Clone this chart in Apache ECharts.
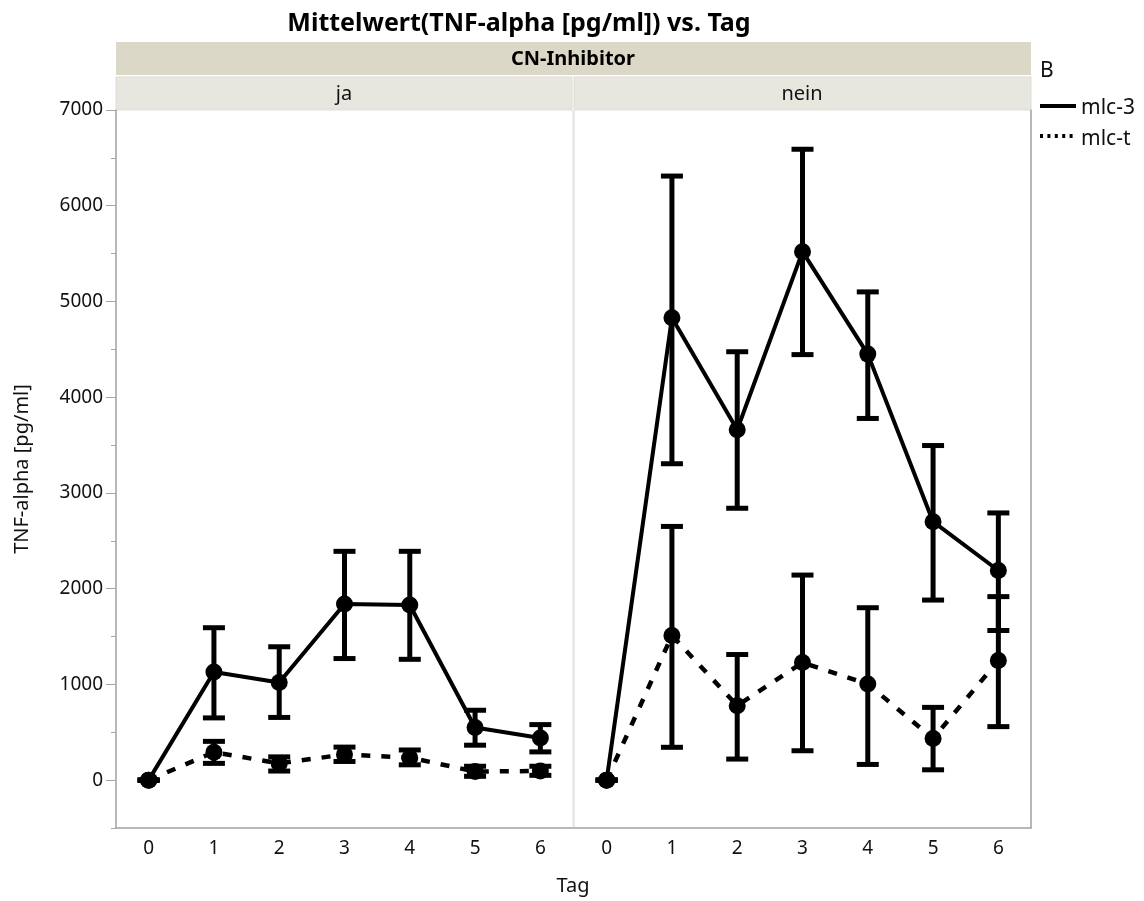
<!DOCTYPE html>
<html>
<head>
<meta charset="utf-8">
<script src="https://cdn.jsdelivr.net/npm/echarts@6/dist/echarts.min.js"></script>
<style>html,body{margin:0;padding:0;background:#fff}#c{width:1144px;height:901px}</style>
</head>
<body>
<div id="c"></div>
<script>
// ---- data ----
const days = ['0','1','2','3','4','5','6'];
const yTicks = [0,1000,2000,3000,4000,5000,6000,7000];
const panels = ['ja','nein'];
const seriesNames = ['mlc-3','mlc-t'];

const ja_mlc3_mean = [0, 1130, 1020, 1840, 1830, 550, 440];
const ja_mlc3_lo   = [0, 650, 655, 1270, 1262, 365, 295];
const ja_mlc3_hi   = [0, 1592, 1393, 2390, 2390, 730, 580];
const ja_mlct_mean = [0, 292, 175, 268, 235, 90, 95];
const ja_mlct_lo   = [0, 175, 95, 195, 160, 40, 50];
const ja_mlct_hi   = [0, 405, 243, 345, 315, 145, 145];

const nein_mlc3_mean = [0, 4830, 3660, 5520, 4450, 2700, 2190];
const nein_mlc3_lo   = [0, 3305, 2840, 4445, 3778, 1881, 1563];
const nein_mlc3_hi   = [0, 6310, 4475, 6590, 5100, 3495, 2791];
const nein_mlct_mean = [0, 1511, 778, 1228, 1004, 435, 1249];
const nein_mlct_lo   = [0, 343, 220, 307, 164, 108, 559];
const nein_mlct_hi   = [0, 2650, 1312, 2142, 1801, 760, 1917];

const FONT = 'Noto Sans';
const chart = echarts.init(document.getElementById('c'), null, {renderer:'canvas'});

function errSeries(gi, lo, hi, z) {
  return {
    type: 'custom', xAxisIndex: gi, yAxisIndex: gi, z: z, silent: true,
    data: days.map((d, i) => [i, lo[i], hi[i]]),
    encode: {x: 0, y: [1, 2]},
    renderItem: function (params, api) {
      const x = api.value(0);
      const a = api.coord([x, api.value(1)]);
      const b = api.coord([x, api.value(2)]);
      const hw = 11;
      const st = {stroke: '#000', lineWidth: 5};
      return {type: 'group', children: [
        {type: 'line', shape: {x1: a[0], y1: a[1], x2: b[0], y2: b[1]}, style: st},
        {type: 'line', shape: {x1: a[0]-hw, y1: a[1], x2: a[0]+hw, y2: a[1]}, style: st},
        {type: 'line', shape: {x1: b[0]-hw, y1: b[1], x2: b[0]+hw, y2: b[1]}, style: st}
      ]};
    }
  };
}
function lineSeries(gi, name, data, dashed, z) {
  return {
    type: 'line', name: name, xAxisIndex: gi, yAxisIndex: gi, z: z, silent: true,
    data: data, symbol: 'circle', symbolSize: 17,
    itemStyle: {color: '#000'},
    lineStyle: {color: '#000', width: dashed ? 4.5 : 4, type: dashed ? [9, 11] : 'solid'},
    animation: false
  };
}

const gridTop = 110, gridH = 718, gridW = 457;
const lefts = [116, 574];
const AX = '#a6a6a6';

const option = {
  animation: false,
  title: {
    text: 'Mittelwert(TNF-alpha [pg/ml]) vs. Tag', left: 514, top: 6, textAlign: 'center',
    textStyle: {fontFamily: FONT, fontSize: 25, fontWeight: 'bold', color: '#000'}
  },
  grid: lefts.map(l => ({left: l, top: gridTop, width: gridW, height: gridH,
    show: true, borderColor: '#dcdcdc', borderWidth: 1, backgroundColor: '#fff'})),
  xAxis: [0, 1].map(i => ({
    type: 'category', gridIndex: i, data: days, boundaryGap: true,
    axisLine: {show: true, onZero: false, lineStyle: {color: AX, width: 1.5}},
    axisTick: {show: false},
    axisLabel: {fontFamily: FONT, fontSize: 19, color: '#111', margin: 11},
    splitLine: {show: false}
  })),
  yAxis: [
    {type: 'value', gridIndex: 0, min: -500, max: 7000, interval: 500,
     axisLine: {show: true, lineStyle: {color: AX, width: 1.5}},
     axisTick: {show: true, length: 10, customValues: yTicks, lineStyle: {color: AX}},
     axisLabel: {fontFamily: FONT, fontSize: 19, color: '#111', margin: 13, customValues: yTicks,
       formatter: v => String(v)},
     splitLine: {show: false},
     name: 'TNF-alpha [pg/ml]', nameLocation: 'middle', nameGap: 84, nameRotate: 90,
     nameTextStyle: {fontFamily: FONT, fontSize: 20, color: '#111'}},
    {type: 'value', gridIndex: 1, min: -500, max: 7000, interval: 500, position: 'right',
     axisLine: {show: true, lineStyle: {color: AX, width: 1.5}},
     axisTick: {show: false}, axisLabel: {show: false}, splitLine: {show: false}},
    {type: 'value', gridIndex: 0, min: -500, max: 7000, interval: 500, position: 'left',
     axisLine: {show: false}, axisTick: {show: true, length: 5, lineStyle: {color: AX}},
     axisLabel: {show: false}, splitLine: {show: false}}
  ],
  series: [
    errSeries(0, ja_mlct_lo, ja_mlct_hi, 3),
    lineSeries(0, seriesNames[1], ja_mlct_mean, true, 4),
    errSeries(0, ja_mlc3_lo, ja_mlc3_hi, 5),
    lineSeries(0, seriesNames[0], ja_mlc3_mean, false, 6),
    errSeries(1, nein_mlct_lo, nein_mlct_hi, 3),
    lineSeries(1, seriesNames[1], nein_mlct_mean, true, 4),
    errSeries(1, nein_mlc3_lo, nein_mlc3_hi, 5),
    lineSeries(1, seriesNames[0], nein_mlc3_mean, false, 6)
  ],
  graphic: [
    // facet header strips
    {type: 'rect', shape: {x: 116, y: 42, width: 915, height: 33}, style: {fill: '#dbd8c8'}},
    {type: 'text', x: 573, y: 59, style: {text: 'CN-Inhibitor', fontFamily: FONT, fontSize: 20, fontWeight: 'bold', fill: '#000', align: 'center', verticalAlign: 'middle'}},
    {type: 'rect', shape: {x: 116, y: 77, width: 456, height: 32}, style: {fill: '#e8e7df', stroke: '#dcdcd4', lineWidth: 1}},
    {type: 'rect', shape: {x: 574, y: 77, width: 457, height: 32}, style: {fill: '#e8e7df', stroke: '#dcdcd4', lineWidth: 1}},
    {type: 'text', x: 344, y: 94, style: {text: panels[0], fontFamily: FONT, fontSize: 20, fill: '#111', align: 'center', verticalAlign: 'middle'}},
    {type: 'text', x: 802, y: 94, style: {text: panels[1], fontFamily: FONT, fontSize: 20, fill: '#111', align: 'center', verticalAlign: 'middle'}},
    // x axis title
    {type: 'text', x: 573, y: 886, style: {text: 'Tag', fontFamily: FONT, fontSize: 20, fill: '#111', align: 'center', verticalAlign: 'middle'}},
    // legend
    {type: 'text', x: 1040, y: 71, style: {text: 'B', fontFamily: FONT, fontSize: 21, fill: '#111', align: 'left', verticalAlign: 'middle'}},
    {type: 'line', shape: {x1: 1040, y1: 106, x2: 1076, y2: 106}, style: {stroke: '#000', lineWidth: 4}},
    {type: 'text', x: 1081, y: 108, style: {text: seriesNames[0], fontFamily: FONT, fontSize: 21, fill: '#111', align: 'left', verticalAlign: 'middle'}},
    {type: 'line', shape: {x1: 1040, y1: 136, x2: 1076, y2: 136}, style: {stroke: '#000', lineWidth: 4, lineDash: [3, 4.4]}},
    {type: 'text', x: 1081, y: 139, style: {text: seriesNames[1], fontFamily: FONT, fontSize: 21, fill: '#111', align: 'left', verticalAlign: 'middle'}}
  ]
};
chart.setOption(option);
</script>
</body>
</html>
